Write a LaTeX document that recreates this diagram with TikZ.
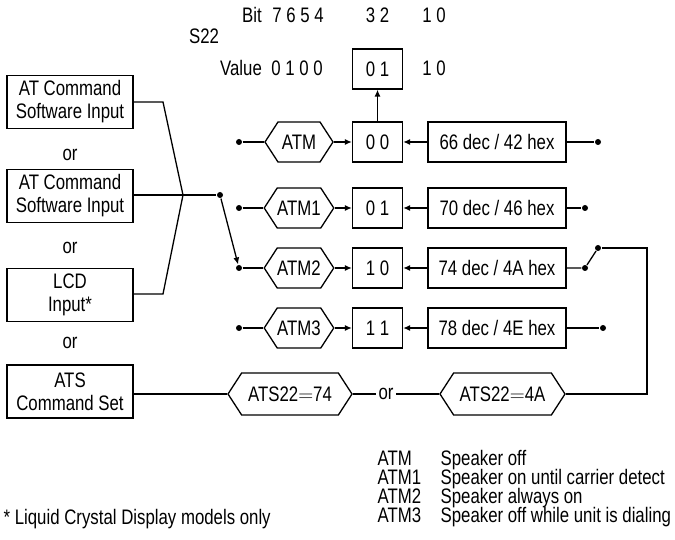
\documentclass[tikz,border=0pt]{standalone}
\usepackage{fontspec}
\setmainfont{Liberation Sans}[FakeStretch=0.8]
\usepackage{tikz}
\usetikzlibrary{arrows.meta,positioning,calc,shapes.symbols}
\newcommand\notefont{\fontsize{21}{19}\selectfont\lineskiplimit=-20pt\relax}

\begin{document}
\begin{tikzpicture}[x=1pt,y=-1pt,line width=1.3pt,
    every node/.style={font=\fontsize{21}{23}\selectfont,inner sep=2pt},
    inbox/.style={draw,minimum width=126,minimum height=53,align=center,inner sep=0},
    bitbox/.style={draw,minimum width=50,minimum height=40,inner sep=0},
    codebox/.style={draw,minimum width=138,minimum height=40,inner sep=0},
    hexa/.style={draw,signal,signal to=east and west,signal pointer angle=114,
      minimum width=68,minimum height=40,inner sep=0},
    dot/.style={circle,fill,inner sep=0,minimum size=6},
    notetext/.style={font=\notefont,inner sep=0,align=left},
    >={Latex[length=7pt,width=6pt]}]
    \useasboundingbox (0,0) rectangle (675,540);

    % bit header
    \node (bit) at (252,15) {Bit};
    \node (b7654) at (298,15) {7 6 5 4};
    \node (b32) at (377.5,15) {3 2};
    \node (b10) at (434,15) {1 0};
    \node (s22) at (204,36) {S22};
    \node (val) at (241,68) {Value};
    \node (v0100) at (297,68) {0 1 0 0};
    \node[bitbox] (vbox) at (377.5,69) {0 1};
    \node (v10) at (434,68) {1 0};

    % input choices
    \node[inbox] (in1) at (70,102) {AT Command\\Software Input};
    \node (or1) at (70,155) {or};
    \node[inbox] (in2) at (70,196) {AT Command\\Software Input};
    \node (or2) at (70,248) {or};
    \node[inbox] (lcd) at (70,295) {LCD\\Input*};
    \node (or3) at (70,343) {or};
    \node[inbox] (ats) at (70,391.5) {ATS\\Command Set};

    % ATM rows
    \node[dot] (d1) at (239,142) {};
    \node[hexa] (m1) at (299,142) {ATM};
    \node[bitbox] (r1) at (377.5,142) {0 0};
    \node[codebox] (c1) at (497,142) {66 dec / 42 hex};
    \node[dot] (e1) at (598,142) {};

    \node[dot] (d2) at (239,208) {};
    \node[hexa] (m2) at (299,208) {ATM1};
    \node[bitbox] (r2) at (377.5,208) {0 1};
    \node[codebox] (c2) at (497,208) {70 dec / 46 hex};
    \node[dot] (e2) at (585,208) {};

    \node[dot] (d3) at (239,268) {};
    \node[hexa] (m3) at (299,268) {ATM2};
    \node[bitbox] (r3) at (377.5,268) {1 0};
    \node[codebox] (c3) at (497,268) {74 dec / 4A hex};
    \node[dot] (e3) at (585,268) {};
    \node[dot] (e3b) at (598,248) {};

    \node[dot] (d4) at (239,328) {};
    \node[hexa] (m4) at (299,328) {ATM3};
    \node[bitbox] (r4) at (377.5,328) {1 1};
    \node[codebox] (c4) at (497,328) {78 dec / 4E hex};
    \node[dot] (e4) at (603,328) {};

    % ATS commands
    \node[hexa,minimum width=124,minimum height=42] (h74) at (290,394) {ATS22${=}$74};
    \node (orb) at (386,394) {or};
    \node[hexa,minimum width=125,minimum height=42] (h4a) at (502.5,394) {ATS22${=}$4A};

    % junction of inputs
    \coordinate (k1) at (163,102);
    \coordinate (k3) at (163,294);
    \coordinate (j) at (183,195);
    \node[dot] (sw) at (220,195) {};
    \coordinate (t1) at (647,248);
    \coordinate (t2) at (647,394);

    \draw (in1.east) -- (k1) -- (j);
    \draw (lcd.east |- k3) -- (k3) -- (j);
    \draw (in2.east |- j) -- (sw);
    \draw[->] (sw) -- (d3);

    \draw (d1) -- (m1.west);
    \draw (d2) -- (m2.west);
    \draw (d3) -- (m3.west);
    \draw (d4) -- (m4.west);
    \draw[->] (m1.east) -- (r1.west);
    \draw[->] (m2.east) -- (r2.west);
    \draw[->] (m3.east) -- (r3.west);
    \draw[->] (m4.east) -- (r4.west);
    \draw[->] (c1.west) -- (r1.east);
    \draw[->] (c2.west) -- (r2.east);
    \draw[->] (c3.west) -- (r3.east);
    \draw[->] (c4.west) -- (r4.east);
    \draw (c1.east) -- (e1);
    \draw (c2.east) -- (e2);
    \draw (c3.east) -- (e3) -- (e3b);
    \draw (c4.east) -- (e4);
    \draw[->] (r1.north) -- (vbox.south);

    \draw (ats.east |- h74) -- (h74.west);
    \draw (h74.east) -- (orb.west);
    \draw (orb.east) -- (h4a.west);
    \draw (h4a.east) -- (t2) -- (t1) -- (e3b);

    % notes
    \node[notetext,anchor=base west] (foot) at (3,524)
      {* Liquid Crystal Display models only};
    \node[notetext,anchor=base west] (keys) at (377,522)
      {ATM\\ATM1\\ATM2\\ATM3};
    \node[notetext,anchor=base west] (desc) at (440,522)
      {Speaker off\\Speaker on until carrier detect\\Speaker always on\\Speaker off while unit is dialing};
\end{tikzpicture}
\end{document}
